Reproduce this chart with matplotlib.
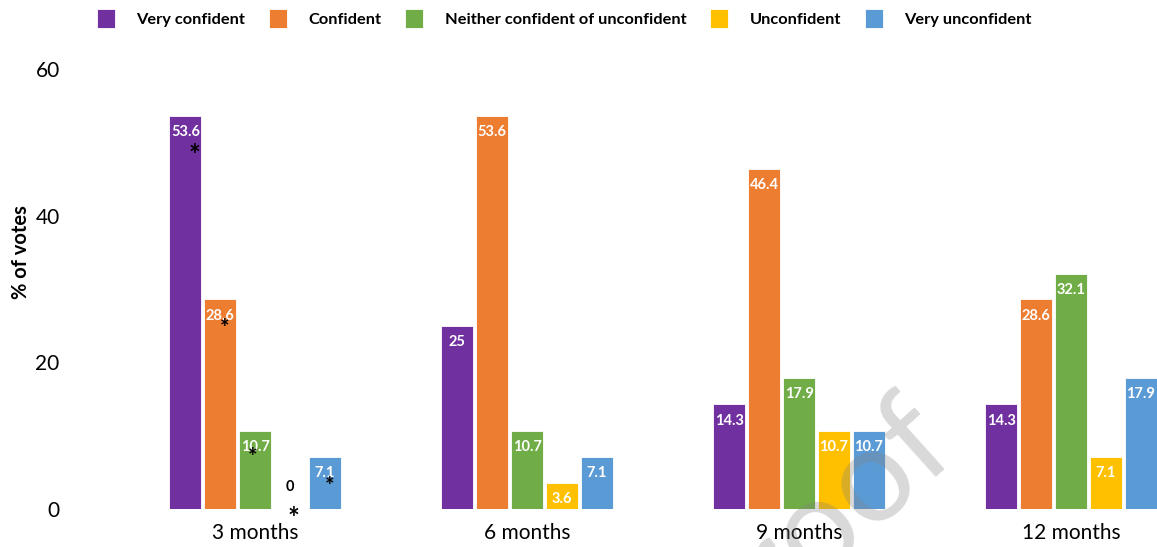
import matplotlib.pyplot as plt
import numpy as np

periods = ['3 months', '6 months', '9 months', '12 months']
answers = ['Very confident', 'Confident', 'Neither confident of unconfident',
           'Unconfident', 'Very unconfident']
votes = [
    [53.6, 25, 14.3, 14.3],
    [28.6, 53.6, 46.4, 28.6],
    [10.7, 10.7, 17.9, 32.1],
    [0, 3.6, 10.7, 7.1],
    [7.1, 7.1, 10.7, 17.9],
]
colors = ['#7030A0', '#ED7D31', '#70AD47', '#FFC000', '#5B9BD5']
# asterisks on the 3 months group (height of the * per answer)
star_y = [48.1, 24.6, 7.0, -1.4, 3.0]
star_dx = [0.033, 0.018, -0.007, 0.015, 0.018]
star_size = [20, 16, 16, 20, 16]

plt.rcParams['font.family'] = ['Lato', 'DejaVu Sans']

fig = plt.figure(figsize=(11.57, 5.47), dpi=100)
ax = fig.add_axes([68 / 1157, 38 / 547, 1 - 68 / 1157, 440 / 547])

x = np.arange(len(periods))
pitch = 0.128
width = 0.118
for i, (name, vals) in enumerate(zip(answers, votes)):
    pos = x + (i - 2) * pitch
    ax.bar(pos, vals, width, color=colors[i], label=name, edgecolor='white', linewidth=0.6)
    for p, v in zip(pos, vals):
        txt = f'{v:g}'
        if v == 0:
            ax.text(p, 3, txt, ha='center', va='center', color='black',
                    fontsize=10.5, fontweight='bold')
        else:
            ax.text(p, v - 1.3, txt, ha='center', va='top', color='white',
                    fontsize=10.5, fontweight='bold')

for i in range(5):
    ax.text(x[0] + (i - 2) * pitch + star_dx[i], star_y[i], '*', ha='center', va='center',
            fontsize=star_size[i], fontweight='bold', color='black')

ax.set_xlim((68 - 255) / 272, (1157 - 255) / 272)
ax.set_ylim(0, 60)
ax.set_yticks([0, 20, 40, 60])
ax.set_xticks(x)
ax.set_xticklabels(periods)
ax.tick_params(length=0, labelsize=15)
ax.tick_params(axis='y', pad=6)
ax.tick_params(axis='x', pad=10)
for s in ax.spines.values():
    s.set_visible(False)

fig.text(21 / 1157, 1 - 252 / 547, '% of votes', rotation=90, ha='center', va='center',
         fontsize=14.5, fontweight='bold')

# faint watermark sitting over the bars
fig.text(813 / 1157, 1 - 527 / 547, 'Proof', rotation=42, fontsize=95, color='#808080',
         alpha=0.3, ha='center', va='center', zorder=10)

fig.legend(loc='upper left', bbox_to_anchor=(97 / 1157, 1 - 9 / 547), ncol=5, frameon=False,
           prop={'weight': 'bold', 'size': 11.8}, handlelength=1.1, handleheight=1.4,
           handletextpad=1.3, columnspacing=1.46, borderpad=0, borderaxespad=0)

fig.savefig('out.png', dpi=100)
